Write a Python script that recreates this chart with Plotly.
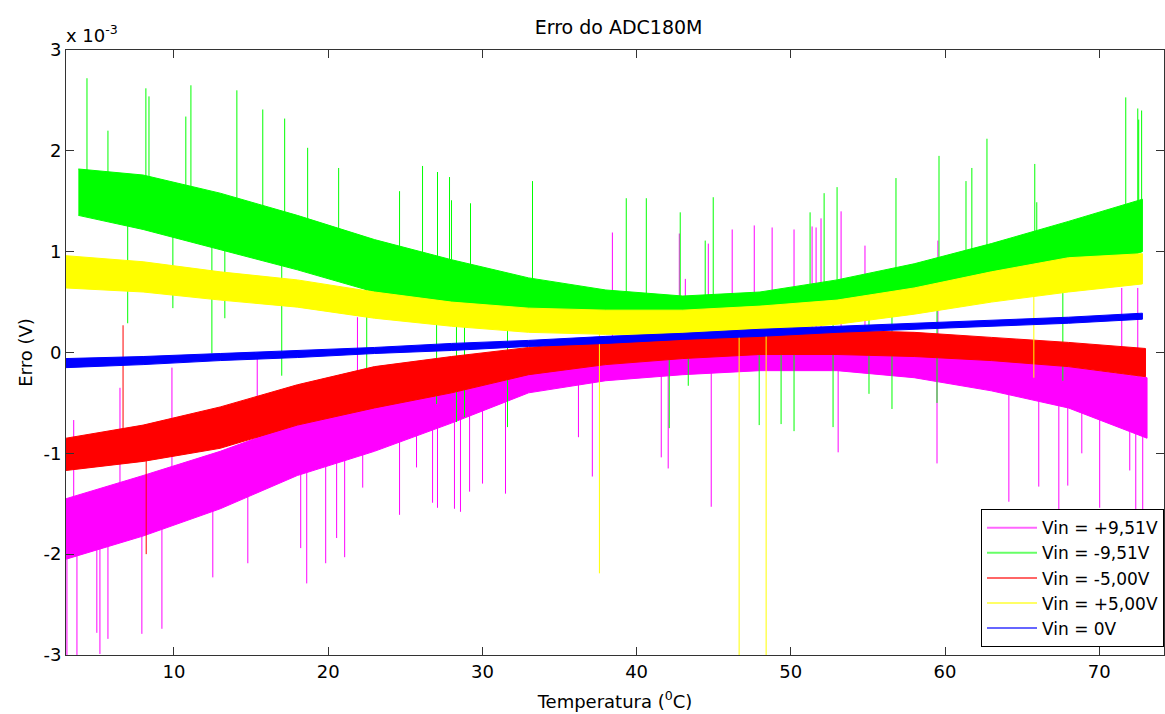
import numpy as np
import plotly.graph_objects as go

# ---------------- data (error values in units of 1e-3 V) ----------------
series_names = ["Vin = +9,51V", "Vin = -9,51V", "Vin = -5,00V", "Vin = +5,00V", "Vin = 0V"]
series_colors = ["#FF00FF", "#00FF00", "#FF0000", "#FFFF00", "#0000FF"]

# Vin = +9,51V (magenta) band envelope
mag_t  = [3.0, 8, 13, 18, 23, 28, 33, 38, 43, 48, 53, 58, 63, 68, 73.1]
mag_up = [-1.45, -1.22, -0.98, -0.70, -0.45, -0.22, -0.02, 0.06, 0.10, 0.14, 0.12, 0.06, -0.04, -0.14, -0.25]
mag_lo = [-2.05, -1.82, -1.55, -1.22, -0.98, -0.70, -0.40, -0.28, -0.22, -0.18, -0.18, -0.25, -0.38, -0.55, -0.85]
mag_spike_t = [3.06, 3.71, 5.0, 5.2, 5.72, 7.92, 9.22, 12.52, 14.79, 18.22, 18.61, 19.84, 20.55, 21.07,
               22.24, 24.63, 25.73, 26.77, 27.09, 28.19, 28.58, 29.17, 30.01, 31.5, 36.23, 37.13, 41.6,
               42.05, 44.84, 53.07, 59.48, 64.14, 66.08, 67.38, 67.96, 68.87, 70.03, 71.98, 72.37, 72.82,
               3.5, 6.5, 9.87, 15.4, 21.9, 38.43, 42.77, 43.16, 44.65, 46.2, 47.63, 48.79, 50.21, 51.38,
               51.64, 51.96, 53.26, 54.81, 59.54, 71.46, 72.5]
mag_spike_v = [-3.0, -3.0, -2.78, -2.99, -2.84, -2.79, -2.74, -2.23, -2.09, -1.94, -2.29, -2.09, -1.84, -2.03,
               -1.34, -1.61, -1.14, -1.49, -1.54, -1.55, -1.58, -1.38, -1.30, -1.40, -0.84, -1.23, -1.04,
               -1.15, -1.53, -0.99, -1.10, -1.48, -1.33, -1.60, -1.32, -1.00, -1.54, -1.17, -1.57, -1.67,
               -0.67, -0.35, -0.15, -0.05, 0.35, 1.19, 1.18, 0.73, 1.08, 1.22, 1.26, 1.24, 1.22, 1.25,
               1.24, 1.33, 1.40, 1.06, 1.11, 0.64, 0.64]

# Vin = -9,51V (green)
grn_t  = [3.8, 8, 13, 18, 23, 28, 33, 38, 43, 48, 53, 58, 63, 68, 72.8]
grn_up = [1.82, 1.76, 1.58, 1.36, 1.12, 0.92, 0.74, 0.62, 0.56, 0.60, 0.72, 0.88, 1.08, 1.30, 1.52]
grn_lo = [1.36, 1.22, 1.02, 0.82, 0.60, 0.45, 0.35, 0.30, 0.28, 0.30, 0.36, 0.45, 0.58, 0.75, 1.00]
grn_spike_t = [4.36, 5.72, 8.18, 8.38, 10.77, 11.10, 14.08, 15.76, 17.18, 18.67, 20.68, 24.63, 26.12,
               27.09, 27.87, 28.0, 29.23, 33.25, 39.33, 40.63, 42.83, 44.45, 44.97, 51.25, 52.16, 53.0,
               56.82, 59.61, 61.36, 61.74, 62.72, 65.82, 65.95, 71.72, 72.5, 72.56, 72.75,
               7.0, 9.93, 12.46, 13.3, 16.99, 22.5, 27.03, 28.32, 28.84, 31.63, 42.12, 43.35, 47.95,
               49.37, 50.21, 52.74, 55.07, 56.56, 59.48, 67.64]
grn_spike_v = [2.72, 2.20, 2.62, 2.54, 2.34, 2.65, 2.60, 2.41, 2.32, 2.03, 1.83, 1.60, 1.85,
               1.79, 1.74, 1.51, 1.48, 1.70, 1.53, 1.53, 1.39, 1.11, 1.54, 1.39, 1.58, 1.64,
               1.73, 1.95, 1.70, 1.83, 2.12, 1.87, 1.49, 2.53, 2.42, 2.31, 2.40,
               0.29, 0.44, -0.01, 0.34, -0.23, -0.55, -0.51, -0.69, -0.64, -0.74, -0.75, -0.33, -0.72,
               -0.71, -0.78, -0.74, -0.41, -0.56, -0.50, -0.28]

# Vin = -5,00V (red)
red_t  = [3.0, 8, 13, 18, 23, 28, 33, 38, 43, 48, 53, 58, 63, 68, 73.0]
red_up = [-0.85, -0.72, -0.54, -0.32, -0.14, -0.04, 0.05, 0.12, 0.17, 0.20, 0.22, 0.20, 0.15, 0.10, 0.04]
red_lo = [-1.17, -1.08, -0.95, -0.72, -0.55, -0.40, -0.22, -0.12, -0.06, -0.02, -0.02, -0.04, -0.08, -0.14, -0.24]
red_spike_t = [6.7, 8.2]
red_spike_v = [0.27, -2.0]

# Vin = +5,00V (yellow)
yel_t  = [3.0, 8, 13, 18, 23, 28, 33, 38, 43, 48, 53, 58, 63, 68, 72.8]
yel_up = [0.96, 0.90, 0.80, 0.72, 0.60, 0.50, 0.44, 0.42, 0.42, 0.46, 0.52, 0.64, 0.80, 0.94, 0.98]
yel_lo = [0.64, 0.60, 0.52, 0.45, 0.34, 0.26, 0.20, 0.18, 0.18, 0.22, 0.28, 0.38, 0.50, 0.60, 0.68]
yel_spike_t = [37.59, 46.65, 48.4, 65.76]
yel_spike_v = [-2.19, -3.0, -3.0, -0.25]

# Vin = 0V (blue)
blu_t  = [3.0, 8, 13, 18, 23, 28, 33, 38, 43, 48, 53, 58, 63, 68, 72.8]
blu_up = [-0.06, -0.04, -0.01, 0.02, 0.05, 0.09, 0.12, 0.16, 0.19, 0.23, 0.26, 0.29, 0.32, 0.35, 0.39]
blu_lo = [-0.15, -0.12, -0.08, -0.05, -0.01, 0.02, 0.06, 0.09, 0.13, 0.16, 0.20, 0.23, 0.26, 0.29, 0.33]
blu_spike_t = []
blu_spike_v = []

y_ticks = [-3, -2, -1, 0, 1, 2, 3]
x_ticks = [10, 20, 30, 40, 50, 60, 70]

SCALE = 1e-3
FONT = "DejaVu Sans, Arial, sans-serif"

bands = [
    (mag_t, mag_up, mag_lo, mag_spike_t, mag_spike_v),
    (grn_t, grn_up, grn_lo, grn_spike_t, grn_spike_v),
    (red_t, red_up, red_lo, red_spike_t, red_spike_v),
    (yel_t, yel_up, yel_lo, yel_spike_t, yel_spike_v),
    (blu_t, blu_up, blu_lo, blu_spike_t, blu_spike_v),
]

fig = go.Figure()
for (t, up, lo, st, sv), name, col in zip(bands, series_names, series_colors):
    t = np.asarray(t, float)
    up = np.asarray(up, float)
    lo = np.asarray(lo, float)
    fig.add_trace(go.Scatter(
        x=np.concatenate([t, t[::-1]]),
        y=np.concatenate([up, lo[::-1]]) * SCALE,
        fill="toself", fillcolor=col, mode="lines",
        line=dict(color=col, width=1), showlegend=False, hoverinfo="skip"))
    if len(st):
        centre = (up + lo) / 2
        xs, ys = [], []
        for tt, vv in zip(st, sv):
            base = float(np.interp(tt, t, centre))
            xs += [tt, tt, None]
            ys += [base * SCALE, vv * SCALE, None]
        fig.add_trace(go.Scatter(x=xs, y=ys, mode="lines",
                                 line=dict(color=col, width=1),
                                 showlegend=False, hoverinfo="skip"))

# legend entries
for name, col in zip(series_names, series_colors):
    fig.add_trace(go.Scatter(x=[None], y=[None], mode="lines", name=name,
                             line=dict(color=col, width=2), opacity=0.6))

axis_common = dict(showline=True, linecolor="#333333", linewidth=1, mirror="ticks",
                   ticks="inside", ticklen=8, tickcolor="#333333", showgrid=False,
                   zeroline=False, tickfont=dict(family=FONT, size=18, color="black"))

fig.update_layout(
    width=1165, height=714,
    margin=dict(l=66, r=1, t=50, b=59),
    paper_bgcolor="white", plot_bgcolor="white",
    font=dict(family=FONT, size=18, color="black"),
    title=dict(text="Erro do ADC180M", x=0.531, xanchor="center", y=0.962, yanchor="middle",
               font=dict(family=FONT, size=19, color="black")),
    xaxis=dict(range=[3, 74.2], tickvals=x_ticks,
               title=dict(text="Temperatura (<sup>0</sup>C)", font=dict(family=FONT, size=18), standoff=14),
               **axis_common),
    yaxis=dict(range=[-3 * SCALE, 3 * SCALE], tickvals=[v * SCALE for v in y_ticks],
               ticktext=[str(v) for v in y_ticks],
               title=dict(text="Erro (V)", font=dict(family=FONT, size=18), standoff=6),
               **axis_common),
    legend=dict(x=1, xanchor="right", y=0.013, yanchor="bottom",
                bgcolor="white", bordercolor="black", borderwidth=1,
                font=dict(family=FONT, size=17), tracegroupgap=0, itemwidth=50),
    showlegend=True,
)

fig.add_annotation(text="x 10<sup>-3</sup>", xref="paper", yref="paper", x=0, y=1,
                   xanchor="left", yanchor="bottom", xshift=-2, yshift=2, showarrow=False,
                   font=dict(family=FONT, size=18, color="black"))

fig.write_html("out.html", config={"displayModeBar": False},
               post_script="document.body.style.margin='0px';")
